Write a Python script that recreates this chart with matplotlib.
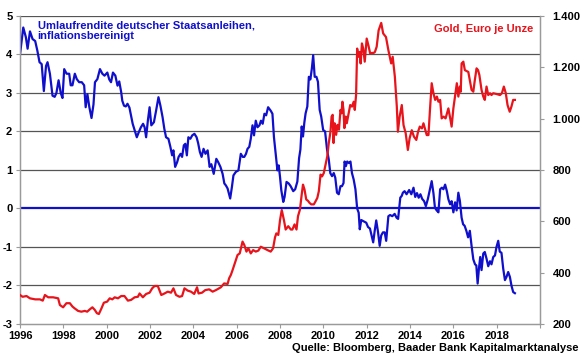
import matplotlib
matplotlib.use("Agg")
import matplotlib.pyplot as plt
from matplotlib.ticker import FuncFormatter

plt.rcParams["font.family"] = ["Liberation Sans", "DejaVu Sans"]
plt.rcParams["axes.unicode_minus"] = False

# Umlaufrendite, inflationsbereinigt (%), decimal years
yield_years = [
    1996.00, 1996.15, 1996.27, 1996.35, 1996.46, 1996.58, 1996.70, 1996.80, 1996.90, 1997.00,
    1997.10, 1997.20, 1997.27, 1997.38, 1997.50, 1997.60, 1997.68, 1997.78, 1997.88, 1997.96,
    1998.04, 1998.15, 1998.27, 1998.34, 1998.42, 1998.53, 1998.62, 1998.73, 1998.85, 1998.96,
    1999.03, 1999.11, 1999.20, 1999.30, 1999.39, 1999.46, 1999.57, 1999.69, 1999.80, 1999.90,
    2000.03, 2000.12, 2000.20, 2000.29, 2000.40, 2000.50, 2000.58, 2000.67, 2000.72, 2000.80,
    2000.88, 2000.96, 2001.05, 2001.20, 2001.39, 2001.48, 2001.58, 2001.68, 2001.75, 2001.82,
    2001.90, 2001.98, 2002.06, 2002.18, 2002.28, 2002.39, 2002.48, 2002.58, 2002.66, 2002.74,
    2002.85, 2002.94, 2003.02, 2003.08, 2003.16, 2003.25, 2003.32, 2003.41, 2003.48, 2003.56,
    2003.63, 2003.70, 2003.77, 2003.86, 2003.95, 2004.05, 2004.15, 2004.22, 2004.30, 2004.38,
    2004.47, 2004.56, 2004.66, 2004.75, 2004.83, 2004.94, 2005.06, 2005.15, 2005.25, 2005.35,
    2005.43, 2005.50, 2005.58, 2005.70, 2005.78, 2005.85, 2005.96, 2006.08, 2006.19, 2006.28,
    2006.35, 2006.43, 2006.50, 2006.58, 2006.65, 2006.73, 2006.80, 2006.88, 2006.96, 2007.05,
    2007.12, 2007.20, 2007.28, 2007.36, 2007.45, 2007.57, 2007.65, 2007.72, 2007.80, 2007.88,
    2007.94, 2008.00, 2008.06, 2008.15, 2008.21, 2008.30, 2008.40, 2008.49, 2008.61, 2008.70,
    2008.80, 2008.88, 2008.94, 2009.00, 2009.06, 2009.12, 2009.18, 2009.26, 2009.33, 2009.40,
    2009.47, 2009.53, 2009.60, 2009.68, 2009.75, 2009.83, 2009.90, 2009.99, 2010.08, 2010.17,
    2010.25, 2010.32, 2010.40, 2010.48, 2010.55, 2010.63, 2010.71, 2010.79, 2010.86, 2010.93,
    2010.98, 2011.04, 2011.10, 2011.18, 2011.25, 2011.32, 2011.40, 2011.48, 2011.56, 2011.63,
    2011.68, 2011.75, 2011.85, 2011.98, 2012.06, 2012.15, 2012.30, 2012.37, 2012.44, 2012.52,
    2012.60, 2012.67, 2012.75, 2012.83, 2012.90, 2013.00, 2013.08, 2013.18, 2013.29, 2013.38,
    2013.45, 2013.55, 2013.62, 2013.67, 2013.75, 2013.84, 2013.96, 2014.06, 2014.16, 2014.24,
    2014.32, 2014.40, 2014.48, 2014.56, 2014.65, 2014.73, 2014.82, 2014.92, 2015.00, 2015.08,
    2015.15, 2015.23, 2015.31, 2015.39, 2015.47, 2015.54, 2015.62, 2015.70, 2015.77, 2015.85,
    2015.92, 2016.00, 2016.08, 2016.15, 2016.23, 2016.30, 2016.38, 2016.45, 2016.52, 2016.60,
    2016.68, 2016.76, 2016.84, 2016.92, 2017.00, 2017.06, 2017.12, 2017.18, 2017.24, 2017.30,
    2017.38, 2017.45, 2017.53, 2017.61, 2017.69, 2017.76, 2017.84, 2017.92, 2017.99, 2018.07,
    2018.14, 2018.22, 2018.30, 2018.38, 2018.45, 2018.53, 2018.61, 2018.68, 2018.76, 2018.84,
]
yield_values = [
    4.00, 4.70, 4.45, 4.15, 4.60, 4.40, 4.35, 4.10, 3.80, 3.75,
    3.05, 3.70, 3.80, 3.50, 2.93, 2.90, 3.00, 3.33, 3.00, 2.87,
    3.62, 3.50, 3.50, 3.20, 3.20, 3.50, 3.36, 3.28, 3.28, 3.20,
    2.63, 2.97, 2.63, 2.35, 2.70, 3.28, 3.36, 3.62, 3.50, 3.45,
    3.53, 3.35, 3.28, 3.53, 3.45, 3.19, 3.30, 3.02, 2.80, 2.67,
    2.65, 2.72, 2.62, 2.20, 1.85, 1.98, 2.11, 2.20, 2.11, 1.85,
    2.28, 2.63, 2.16, 2.24, 2.54, 2.89, 2.67, 2.37, 2.07, 1.85,
    1.81, 1.60, 1.38, 1.51, 1.08, 1.20, 1.34, 1.42, 1.34, 1.64,
    1.68, 1.38, 1.85, 1.81, 1.90, 1.94, 1.85, 1.70, 1.47, 1.34,
    1.55, 1.42, 1.51, 1.08, 1.15, 0.90, 1.29, 1.20, 1.08, 0.90,
    0.65, 0.60, 0.52, 0.26, 0.56, 0.86, 0.95, 0.99, 1.42, 1.34,
    1.34, 1.42, 1.55, 1.60, 1.81, 2.16, 1.90, 2.28, 2.11, 2.16,
    2.28, 2.20, 2.46, 2.42, 2.63, 2.54, 2.46, 1.85, 1.42, 0.99,
    1.12, 0.82, 0.47, 0.17, 0.30, 0.69, 0.65, 0.58, 0.45, 0.50,
    0.70, 1.31, 1.53, 2.13, 1.87, 2.22, 2.47, 2.65, 3.42, 3.35,
    3.64, 3.98, 3.42, 3.42, 3.29, 2.56, 2.39, 2.04, 2.00, 1.53,
    1.27, 0.92, 0.84, 0.92, 0.80, 0.41, 0.37, 0.58, 0.58, 0.66,
    1.22, 1.10, 1.22, 1.18, 1.22, 0.92, 0.75, 0.50, 0.00, -0.11,
    -0.54, -0.30, -0.33, -0.37, -0.48, -0.52, -0.88, -0.58, -0.31, -0.60,
    -0.97, -0.70, -0.62, -0.62, -0.84, -0.20, -0.17, -0.20, -0.14, -0.24,
    -0.27, 0.28, 0.33, 0.41, 0.45, 0.37, 0.48, 0.37, 0.54, 0.30,
    0.40, 0.28, 0.37, 0.25, 0.19, 0.06, 0.24, 0.50, 0.71, 0.40,
    0.02, -0.05, -0.10, 0.50, 0.54, 0.50, 0.62, 0.45, 0.24, 0.11,
    0.19, -0.10, 0.16, -0.05, 0.41, 0.20, -0.24, -0.41, -0.45, -0.58,
    -0.75, -0.58, -0.97, -1.32, -1.45, -1.48, -1.95, -1.56, -1.26, -1.60,
    -1.17, -1.13, -1.30, -1.50, -1.37, -1.45, -1.26, -1.22, -1.00, -0.84,
    -1.12, -1.15, -1.56, -1.86, -1.78, -1.65, -1.78, -2.00, -2.17, -2.20,
]

# Gold, Euro je Unze
gold_years = [
    1996.00, 1996.12, 1996.30, 1996.46, 1996.70, 1996.92, 1997.05, 1997.15, 1997.30, 1997.53,
    1997.76, 1997.84, 1997.99, 1998.14, 1998.30, 1998.42, 1998.52, 1998.68, 1998.83, 1998.99,
    1999.10, 1999.22, 1999.34, 1999.45, 1999.55, 1999.64, 1999.76, 1999.87, 2000.02, 2000.14,
    2000.26, 2000.37, 2000.52, 2000.67, 2000.82, 2000.98, 2001.13, 2001.29, 2001.44, 2001.52,
    2001.67, 2001.82, 2001.98, 2002.10, 2002.21, 2002.36, 2002.52, 2002.67, 2002.82, 2002.97,
    2003.08, 2003.20, 2003.36, 2003.48, 2003.59, 2003.74, 2003.89, 2004.04, 2004.17, 2004.24,
    2004.40, 2004.55, 2004.73, 2004.89, 2005.04, 2005.27, 2005.42, 2005.58, 2005.65, 2005.73,
    2005.81, 2005.96, 2006.04, 2006.14, 2006.27, 2006.35, 2006.45, 2006.54, 2006.65, 2006.76,
    2006.88, 2007.00, 2007.11, 2007.26, 2007.42, 2007.57, 2007.68, 2007.77, 2007.83, 2007.92,
    2008.00, 2008.08, 2008.18, 2008.26, 2008.38, 2008.50, 2008.57, 2008.67, 2008.76, 2008.83,
    2008.92, 2009.00, 2009.06, 2009.13, 2009.21, 2009.29, 2009.36, 2009.44, 2009.56, 2009.64,
    2009.72, 2009.79, 2009.87, 2009.94, 2010.02, 2010.10, 2010.18, 2010.25, 2010.33, 2010.38,
    2010.43, 2010.47, 2010.52, 2010.59, 2010.65, 2010.72, 2010.79, 2010.84, 2010.88, 2010.93,
    2010.97, 2011.03, 2011.08, 2011.17, 2011.24, 2011.32, 2011.40, 2011.45, 2011.51, 2011.56,
    2011.62, 2011.68, 2011.72, 2011.78, 2011.84, 2011.91, 2012.00, 2012.08, 2012.16, 2012.24,
    2012.32, 2012.38, 2012.46, 2012.55, 2012.67, 2012.76, 2012.89, 2013.00, 2013.13, 2013.20,
    2013.30, 2013.39, 2013.44, 2013.52, 2013.62, 2013.70, 2013.80, 2013.90, 2013.98, 2014.08,
    2014.18, 2014.29, 2014.37, 2014.45, 2014.55, 2014.62, 2014.77, 2014.85, 2014.92, 2015.00,
    2015.08, 2015.16, 2015.24, 2015.31, 2015.39, 2015.46, 2015.55, 2015.64, 2015.77, 2015.84,
    2015.92, 2016.00, 2016.16, 2016.23, 2016.30, 2016.34, 2016.38, 2016.46, 2016.53, 2016.69,
    2016.76, 2016.84, 2016.92, 2016.99, 2017.07, 2017.14, 2017.20, 2017.30, 2017.38, 2017.45,
    2017.53, 2017.61, 2017.69, 2017.76, 2017.84, 2017.99, 2018.15, 2018.24, 2018.33, 2018.42,
    2018.50, 2018.60, 2018.68, 2018.76, 2018.84,
]
gold_values = [
    313, 306, 309, 300, 296, 296, 291, 313, 304, 304,
    300, 274, 265, 281, 281, 268, 261, 251, 248, 251,
    248, 257, 265, 255, 242, 239, 261, 283, 287, 300,
    296, 304, 300, 309, 309, 291, 294, 304, 306, 319,
    304, 317, 322, 339, 348, 348, 313, 319, 326, 322,
    339, 313, 306, 309, 339, 330, 326, 317, 343, 319,
    322, 332, 335, 326, 332, 343, 358, 356, 378, 391,
    410, 449, 469, 475, 521, 508, 482, 495, 475, 488,
    482, 486, 501, 495, 488, 482, 495, 538, 553, 547,
    605, 644, 605, 568, 581, 568, 568, 588, 568, 620,
    646, 704, 743, 724, 685, 680, 672, 666, 666, 678,
    691, 717, 782, 775, 788, 821, 853, 905, 950, 1008,
    1015, 905, 982, 937, 976, 957, 1034, 1021, 1066, 1034,
    963, 1008, 982, 1021, 1053, 1047, 1066, 1034, 1092, 1273,
    1241, 1260, 1215, 1293, 1273, 1222, 1312, 1285, 1254, 1256,
    1256, 1260, 1280, 1344, 1373, 1332, 1318, 1267, 1215, 1241,
    1163, 1047, 949, 1008, 1053, 975, 943, 878, 923, 955,
    930, 917, 949, 969, 962, 982, 936, 936, 1034, 1138,
    1099, 1073, 1086, 1066, 1073, 1001, 1008, 1001, 1040, 1008,
    969, 1040, 1138, 1086, 1125, 1105, 1215, 1222, 1189, 1182,
    1150, 1112, 1105, 1150, 1196, 1189, 1170, 1112, 1086, 1073,
    1125, 1092, 1099, 1092, 1099, 1096, 1092, 1099, 1125, 1099,
    1053, 1027, 1047, 1073, 1073,
]

x_ticks = list(range(1996, 2021, 2))
x_labels = [str(y) for y in range(1996, 2019, 2)] + [""]
left_ticks = [-3, -2, -1, 0, 1, 2, 3, 4, 5]
right_ticks = [200, 400, 600, 800, 1000, 1200, 1400]

BLUE = "#1010cc"
RED = "#e8141c"
GRID = "#555555"
SPINE = "#9a9a9a"

fig = plt.figure(figsize=(5.8, 3.59), dpi=100)
ax = fig.add_axes([0.0345, 0.0975, 0.8966, 0.858])
ax2 = ax.twinx()

ax.plot(yield_years, yield_values, color=BLUE, lw=1.6, zorder=3)
ax.axhline(0, color=BLUE, lw=1.6, zorder=2)
ax2.plot(gold_years, gold_values, color=RED, lw=1.6, zorder=3)

ax.set_xlim(1996, 2020)
ax.set_ylim(-3, 5)
ax2.set_ylim(200, 1400)

ax.set_yticks(left_ticks)
ax2.set_yticks(right_ticks)
ax.set_xticks(x_ticks)
ax.set_xticklabels(x_labels)
ax2.yaxis.set_major_formatter(FuncFormatter(lambda v, p: f"{int(v):,}".replace(",", ".")))

for t in ax.get_yticks():
    if t not in (-3, 0, 5):
        ax.axhline(t, color=GRID, lw=0.9, zorder=1)
ax.axhline(5, color=GRID, lw=0.9, zorder=1)

for a in (ax, ax2):
    for side, sp in a.spines.items():
        sp.set_color(SPINE)
        sp.set_linewidth(0.9)
    a.spines["top"].set_visible(False)

ax.tick_params(axis="both", colors=SPINE, length=3, width=0.8,
               labelcolor="black", labelsize=8)
ax2.tick_params(axis="y", colors=SPINE, length=3, width=0.8,
                labelcolor="black", labelsize=8, pad=6)
ax.tick_params(axis="y", pad=2.5)
ax.tick_params(axis="x", pad=2)
for lbl in ax.get_xticklabels() + ax.get_yticklabels() + ax2.get_yticklabels():
    lbl.set_fontweight("bold")

ax.text(0.034, 0.985, "Umlaufrendite deutscher Staatsanleihen,\ninflationsbereinigt",
        transform=ax.transAxes, ha="left", va="top", color=BLUE,
        fontsize=8, fontweight="bold", linespacing=1.0)
ax.text(0.986, 0.975, "Gold, Euro je Unze", transform=ax.transAxes,
        ha="right", va="top", color=RED, fontsize=8, fontweight="bold")
fig.text(0.997, 0.018, "Quelle: Bloomberg, Baader Bank Kapitalmarktanalyse",
         ha="right", va="bottom", fontsize=8, fontweight="bold")

fig.savefig("out.png", dpi=100)
